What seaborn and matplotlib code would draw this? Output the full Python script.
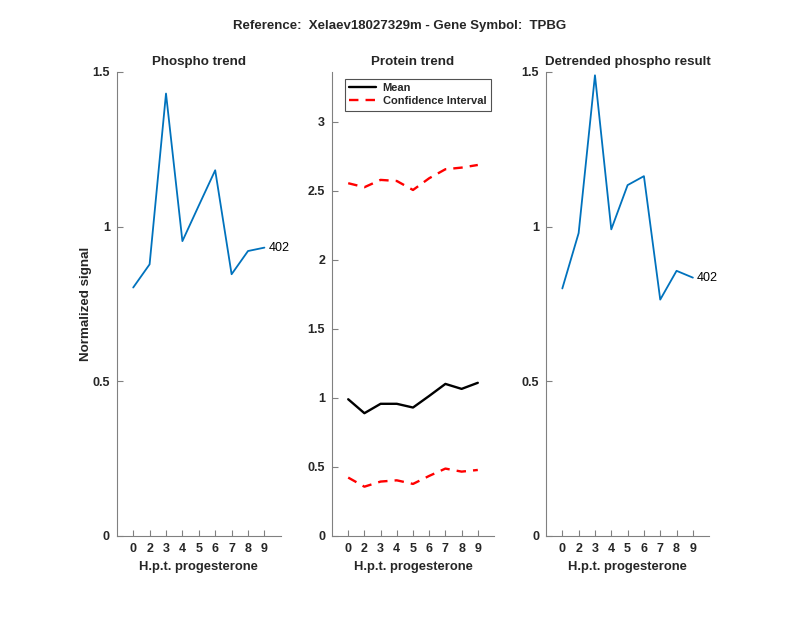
import matplotlib
matplotlib.use("Agg")
import matplotlib.pyplot as plt
import pandas as pd
import seaborn as sns

hours = ["0", "2", "3", "4", "5", "6", "7", "8", "9"]
phospho = [0.803, 0.878, 1.430, 0.953, 1.068, 1.182, 0.846, 0.921, 0.932]
protein_mean = [0.990, 0.889, 0.957, 0.957, 0.930, 1.014, 1.101, 1.065, 1.109]
ci_upper = [2.554, 2.525, 2.578, 2.570, 2.505, 2.590, 2.655, 2.667, 2.686]
ci_lower = [0.423, 0.357, 0.394, 0.403, 0.377, 0.435, 0.488, 0.466, 0.478]
detrended = [0.800, 0.979, 1.489, 0.991, 1.134, 1.163, 0.764, 0.857, 0.835]
peptide_label = "402"

sns.set_style("white")
plt.rcParams["font.family"] = ["Liberation Sans", "DejaVu Sans"]

blue = "#0072BD"
axcol = "#262626"
spine_col = "#808080"

pos = list(range(1, len(hours) + 1))
df = pd.DataFrame({
    "pos": pos,
    "phospho": phospho,
    "mean": protein_mean,
    "upper": ci_upper,
    "lower": ci_lower,
    "detrended": detrended,
})

fig = plt.figure(figsize=(8, 6.18), dpi=100)
bottom, height = 0.1327, 0.751
ax1 = fig.add_axes([0.146, bottom, 0.205, height])
ax2 = fig.add_axes([0.415, bottom, 0.2025, height])
ax3 = fig.add_axes([0.6825, bottom, 0.204, height])

sns.lineplot(data=df, x="pos", y="phospho", color=blue, lw=1.3, ax=ax1)
ax1.text(pos[-1] + 0.25, phospho[-1], peptide_label, va="center", ha="left",
         fontsize=9, color="black")
ax1.set_ylim(0, 1.5)
ax1.set_yticks([0, 0.5, 1, 1.5])
ax1.set_yticklabels(["0", "0.5", "1", "1.5"])
ax1.set_title("Phospho trend", fontsize=9.6, fontweight="bold", pad=5)
ax1.set_ylabel("Normalized signal", fontsize=9.6, fontweight="bold", color=axcol,
               labelpad=0)

sns.lineplot(data=df, x="pos", y="mean", color="black", lw=1.7, ax=ax2, label="Mean")
sns.lineplot(data=df, x="pos", y="upper", color="red", lw=1.7, ax=ax2,
             linestyle=(0, (4, 3)), label="Confidence Interval")
sns.lineplot(data=df, x="pos", y="lower", color="red", lw=1.7, ax=ax2,
             linestyle=(0, (4, 3)))
ax2.set_ylim(0, 3.36)
ax2.set_yticks([0, 0.5, 1, 1.5, 2, 2.5, 3])
ax2.set_yticklabels(["0", "0.5", "1", "1.5", "2", "2.5", "3"])
ax2.set_title("Protein trend", fontsize=9.6, fontweight="bold", pad=5)
ax2.set_ylabel("")
leg = ax2.legend(loc="upper left", bbox_to_anchor=(0.08, 0.985), fontsize=8,
                 frameon=True, fancybox=False, handlelength=2.4,
                 borderpad=0.4, labelspacing=0.25, handletextpad=0.6,
                 borderaxespad=0)
leg.get_frame().set_edgecolor(axcol)
leg.get_frame().set_linewidth(0.8)
for t in leg.get_texts():
    t.set_fontweight("bold")

sns.lineplot(data=df, x="pos", y="detrended", color=blue, lw=1.3, ax=ax3)
ax3.text(pos[-1] + 0.25, detrended[-1], peptide_label, va="center", ha="left",
         fontsize=9, color="black")
ax3.set_ylim(0, 1.5)
ax3.set_yticks([0, 0.5, 1, 1.5])
ax3.set_yticklabels(["0", "0.5", "1", "1.5"])
ax3.set_title("Detrended phospho result", fontsize=9.6, fontweight="bold", pad=5)
ax3.set_ylabel("")

for ax in (ax1, ax2, ax3):
    ax.set_xlim(0, len(hours) + 1)
    ax.set_xticks(pos)
    ax.set_xticklabels(hours)
    ax.set_xlabel("H.p.t. progesterone", fontsize=9.4, fontweight="bold", color=axcol,
                  labelpad=4.5)
    sns.despine(ax=ax)
    for s in ("left", "bottom"):
        ax.spines[s].set_color(spine_col)
        ax.spines[s].set_linewidth(0.8)
    ax.tick_params(direction="in", length=4, width=0.8, color=spine_col,
                   labelsize=9, labelcolor=axcol, pad=5,
                   left=True, bottom=True)
    for lab in ax.get_xticklabels() + ax.get_yticklabels():
        lab.set_fontweight("bold")

fig.suptitle("Reference:  Xelaev18027329m - Gene Symbol:  TPBG", y=0.958, va="center",
             fontsize=9.5, fontweight="bold")

fig.savefig("out.png", dpi=100)
